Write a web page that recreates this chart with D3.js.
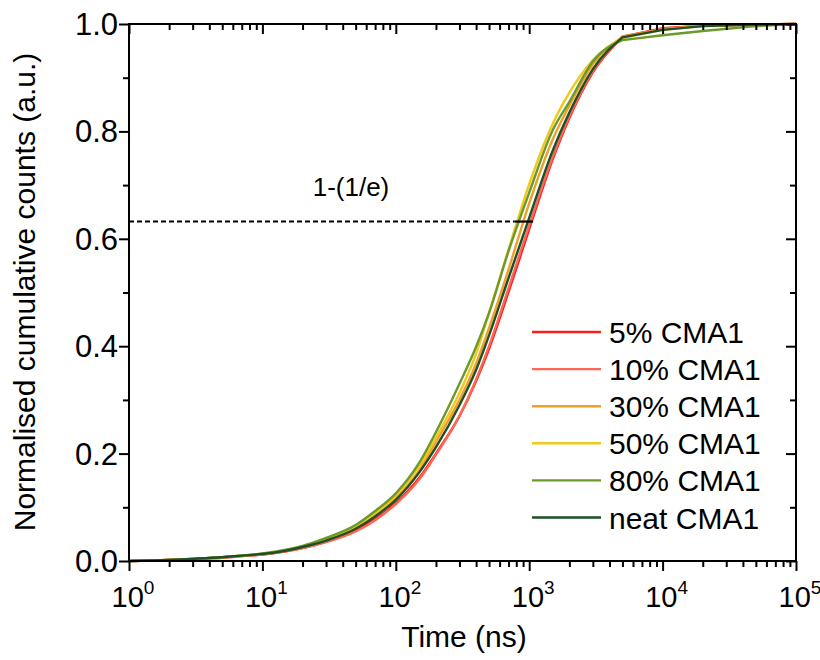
<!DOCTYPE html>
<html>
<head>
<meta charset="utf-8">
<script src="https://cdn.jsdelivr.net/npm/d3@7"></script>
<style>
  html, body { margin: 0; padding: 0; background: #fff; }
  svg { display: block; }
  text { font-family: Arial, "Liberation Sans", sans-serif; fill: #000; }
</style>
</head>
<body>
<svg id="chart" width="820" height="660"></svg>
<script>
// ---- data ----
const times = [1,2,3,5,7,10,15,20,30,50,70,100,150,200,300,400,500,700,1000,1500,2000,3000,5000,10000,20000,50000,100000];
const cma5   = [0,0.002,0.004,0.006,0.009,0.012,0.018,0.024,0.036,0.057,0.078,0.108,0.155,0.200,0.270,0.335,0.395,0.501,0.618,0.748,0.825,0.910,0.976,0.992,0.997,0.999,1.0];
const cma10  = [0,0.002,0.004,0.006,0.009,0.012,0.018,0.024,0.035,0.055,0.076,0.106,0.152,0.198,0.270,0.338,0.400,0.508,0.625,0.752,0.828,0.912,0.977,0.991,0.997,0.999,1.0];
const cma30  = [0,0.002,0.004,0.007,0.010,0.013,0.019,0.026,0.039,0.061,0.085,0.117,0.169,0.222,0.300,0.368,0.434,0.543,0.666,0.785,0.848,0.925,0.976,0.990,0.997,0.999,1.0];
const cma50  = [0,0.002,0.004,0.007,0.010,0.013,0.020,0.027,0.041,0.064,0.089,0.122,0.177,0.230,0.313,0.386,0.462,0.580,0.702,0.814,0.872,0.933,0.974,0.989,0.996,0.999,1.0];
const cma80  = [0,0.002,0.004,0.007,0.010,0.014,0.021,0.028,0.043,0.067,0.093,0.126,0.183,0.240,0.330,0.399,0.462,0.577,0.686,0.802,0.855,0.930,0.970,0.979,0.987,0.996,1.0];
const cmaNeat= [0,0.002,0.004,0.007,0.010,0.013,0.019,0.026,0.038,0.060,0.083,0.114,0.165,0.212,0.290,0.356,0.420,0.527,0.639,0.764,0.835,0.916,0.975,0.989,0.996,0.999,1.0];

const seriesNames  = ["5% CMA1","10% CMA1","30% CMA1","50% CMA1","80% CMA1","neat CMA1"];
const seriesValues = [cma5, cma10, cma30, cma50, cma80, cmaNeat];
const seriesColors = ["#ff1a1a","#ff6655","#f0a028","#f0c81e","#6a9a2a","#1e5028"];

const xMajorTicks = [1,10,100,1000,10000,100000];
const xExponents  = [0,1,2,3,4,5];
const yMajorTicks = [0,0.2,0.4,0.6,0.8,1.0];
const yMinorTicks = [0.1,0.3,0.5,0.7,0.9];

const kinkTime = 5000;     // ns, curves change from smooth to straight segments here
const eLevel = 1 - 1/Math.E;
const eDashEnd = 780;      // ns, where the dashed guide meets the curves
const eSolidEnd = 1070;    // ns, end of solid segment
const eLabel = "1-(1/e)";

// ---- layout ----
const svg = d3.select("#chart");
const L = 129, R = 796, T = 24, B = 561;
const x = d3.scaleLog().domain([1, 1e5]).range([L, R]);
const y = d3.scaleLinear().domain([0, 1]).range([B, T]);

const xMinor = [];
for (let k = 0; k < 5; k++) for (let m = 2; m <= 9; m++) xMinor.push(m * Math.pow(10, k));

// curves
const smooth = d3.line().x(d => x(d[0])).y(d => y(d[1])).curve(d3.curveMonotoneX);
const straight = d3.line().x(d => x(d[0])).y(d => y(d[1]));
const gLines = svg.append("g");
seriesValues.forEach((vals, i) => {
  const pts = times.map((t, j) => [t, vals[j]]);
  const a = pts.filter(p => p[0] <= kinkTime);
  const b = pts.filter(p => p[0] >= kinkTime);
  gLines.append("path")
    .attr("d", smooth(a) + straight(b).replace(/^M/, "L"))
    .attr("fill", "none")
    .attr("stroke", seriesColors[i])
    .attr("stroke-width", 2.4)
    .attr("stroke-linejoin", "round");
});

// 1-1/e guide
svg.append("line")
  .attr("x1", x(1)).attr("x2", x(eDashEnd))
  .attr("y1", y(eLevel)).attr("y2", y(eLevel))
  .attr("stroke", "#000").attr("stroke-width", 2)
  .attr("stroke-dasharray", "5,3");
svg.append("line")
  .attr("x1", x(eDashEnd)).attr("x2", x(eSolidEnd))
  .attr("y1", y(eLevel)).attr("y2", y(eLevel))
  .attr("stroke", "#000").attr("stroke-width", 2.2);
svg.append("text")
  .attr("x", 351).attr("y", 196)
  .attr("text-anchor", "middle")
  .attr("font-size", 26)
  .text(eLabel);

// axes
function styleAxis(g) {
  g.select(".domain").remove();
  g.selectAll(".tick line").attr("stroke", "#000").attr("stroke-width", 2);
}
svg.append("g").attr("transform", `translate(0,${B})`)
  .call(d3.axisBottom(x).tickValues(xMajorTicks).tickSize(10).tickFormat(() => "")).call(styleAxis);
svg.append("g").attr("transform", `translate(0,${B})`)
  .call(d3.axisBottom(x).tickValues(xMinor).tickSize(6).tickFormat(() => "")).call(styleAxis);
svg.append("g").attr("transform", `translate(0,${T})`)
  .call(d3.axisBottom(x).tickValues(xMajorTicks).tickSize(10).tickFormat(() => "")).call(styleAxis);
svg.append("g").attr("transform", `translate(0,${T})`)
  .call(d3.axisBottom(x).tickValues(xMinor).tickSize(6).tickFormat(() => "")).call(styleAxis);
svg.append("g").attr("transform", `translate(${L},0)`)
  .call(d3.axisLeft(y).tickValues(yMajorTicks).tickSize(10).tickFormat(() => "")).call(styleAxis);
svg.append("g").attr("transform", `translate(${L},0)`)
  .call(d3.axisLeft(y).tickValues(yMinorTicks).tickSize(6).tickFormat(() => "")).call(styleAxis);
svg.append("g").attr("transform", `translate(${R},0)`)
  .call(d3.axisLeft(y).tickValues(yMajorTicks).tickSize(10).tickFormat(() => "")).call(styleAxis);
svg.append("g").attr("transform", `translate(${R},0)`)
  .call(d3.axisLeft(y).tickValues(yMinorTicks).tickSize(6).tickFormat(() => "")).call(styleAxis);

// frame
svg.append("rect")
  .attr("x", L).attr("y", T).attr("width", R - L).attr("height", B - T)
  .attr("fill", "none").attr("stroke", "#000").attr("stroke-width", 2);

// x tick labels with superscripts
xMajorTicks.forEach((v, i) => {
  const t = svg.append("text")
    .attr("x", x(v) + 4).attr("y", 607)
    .attr("text-anchor", "middle")
    .attr("font-size", 29);
  t.append("tspan").text("10");
  t.append("tspan").attr("font-size", 19).attr("dy", -13).text(xExponents[i]);
});
// y tick labels
yMajorTicks.forEach(v => {
  svg.append("text")
    .attr("x", L - 11).attr("y", y(v) + 11)
    .attr("text-anchor", "end")
    .attr("font-size", 31)
    .text(d3.format(".1f")(v));
});

// axis titles
svg.append("text")
  .attr("x", 464).attr("y", 647)
  .attr("text-anchor", "middle")
  .attr("font-size", 30)
  .text("Time (ns)");
svg.append("text")
  .attr("transform", `translate(35,292) rotate(-90)`)
  .attr("text-anchor", "middle")
  .attr("font-size", 30)
  .text("Normalised cumulative counts (a.u.)");

// legend
const legY0 = 332, legDy = 37.1;
seriesNames.forEach((name, i) => {
  const yy = legY0 + i * legDy;
  svg.append("line")
    .attr("x1", 532).attr("x2", 601)
    .attr("y1", yy).attr("y2", yy)
    .attr("stroke", seriesColors[i]).attr("stroke-width", 2.4);
  svg.append("text")
    .attr("x", 609).attr("y", yy + 11)
    .attr("font-size", 30)
    .text(name);
});
</script>
</body>
</html>
